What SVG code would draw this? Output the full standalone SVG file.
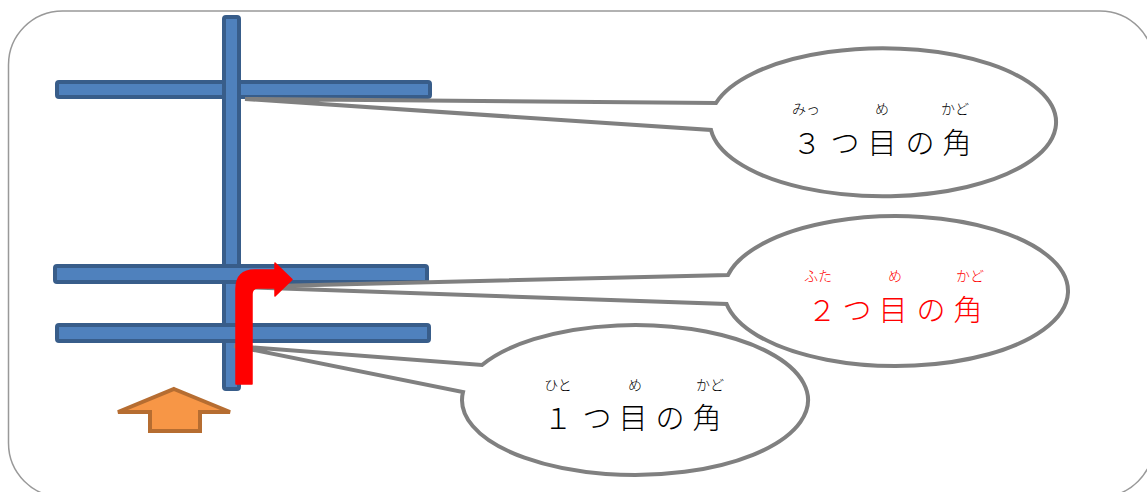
<svg xmlns="http://www.w3.org/2000/svg" width="1147" height="492" viewBox="0 0 1147 492">
<style>
.road{fill:#4F81BD;stroke:#385D8A;stroke-width:4}
.callout{fill:#FFFFFF;stroke:#808080;stroke-width:4;stroke-linejoin:miter}
.main{font-family:"Noto Sans CJK JP","Noto Sans",sans-serif;font-size:29px;font-weight:300;text-anchor:middle}
.ruby{font-family:"Noto Sans CJK JP","Noto Sans",sans-serif;font-size:14px;font-weight:300;text-anchor:middle}
.black{fill:#000000}
.red{fill:#FF0000}
</style>
<rect id="frame" x="8.5" y="11" width="1145.5" height="486" rx="54" ry="54" fill="#FFFFFF" stroke="#999999" stroke-width="1.5"/>
<g id="roads">
<rect id="road-top" class="road" x="57" y="82" width="373" height="15" rx="2"/>
<rect id="road-vertical" class="road" x="224" y="17" width="15" height="372" rx="2"/>
<rect id="road-middle" class="road" x="55" y="266" width="372" height="16" rx="2"/>
<rect id="road-bottom" class="road" x="57" y="325" width="372" height="16" rx="2"/>
</g>
<g id="connectors">
<path id="tail3" class="callout" d="M245,99 L716,103 A173,74 0 1 1 711,130 Z"/>
<path id="tail2" class="callout" d="M236,287 L728,275 A172,75 0 1 1 726.6,304 Z"/>
<path id="tail1" class="callout" d="M234,346 L482,365 A173,75 0 1 1 463,392 Z"/>
</g>
<g id="callout3">
<text class="ruby black" x="806" y="114">みっ</text>
<text class="ruby black" x="882" y="114">め</text>
<text class="ruby black" x="955" y="114">かど</text>
<text class="main black" x="807 845 882 920 957" y="154">３つ目の角</text>
</g>
<g id="callout2">
<text class="ruby red" x="818" y="281">ふた</text>
<text class="ruby red" x="895" y="281">め</text>
<text class="ruby red" x="970" y="281">かど</text>
<text class="main red" x="822 857 893 931 968" y="321">２つ目の角</text>
</g>
<g id="callout1">
<text class="ruby black" x="558" y="390">ひと</text>
<text class="ruby black" x="635" y="390">め</text>
<text class="ruby black" x="710" y="390">かど</text>
<text class="main black" x="558 597 633 670 707" y="429">１つ目の角</text>
</g>
<g id="turn-arrow">
<path d="M236,384 L236,289 Q236,270 255,270 L275,270 L275,263 L292,279.5 L275,296 L275,288 L258,288 Q252,288 252,294 L252,384 Z" fill="#FF0000" stroke="#FF0000" stroke-width="1.5" stroke-linejoin="round"/>
</g>
<g id="start-arrow">
<path d="M174,389 L230,412 L200,412 L200,431 L150,431 L150,412 L118,412 Z" fill="#F79646" stroke="#B66D31" stroke-width="4" stroke-linejoin="miter"/>
</g>
</svg>
